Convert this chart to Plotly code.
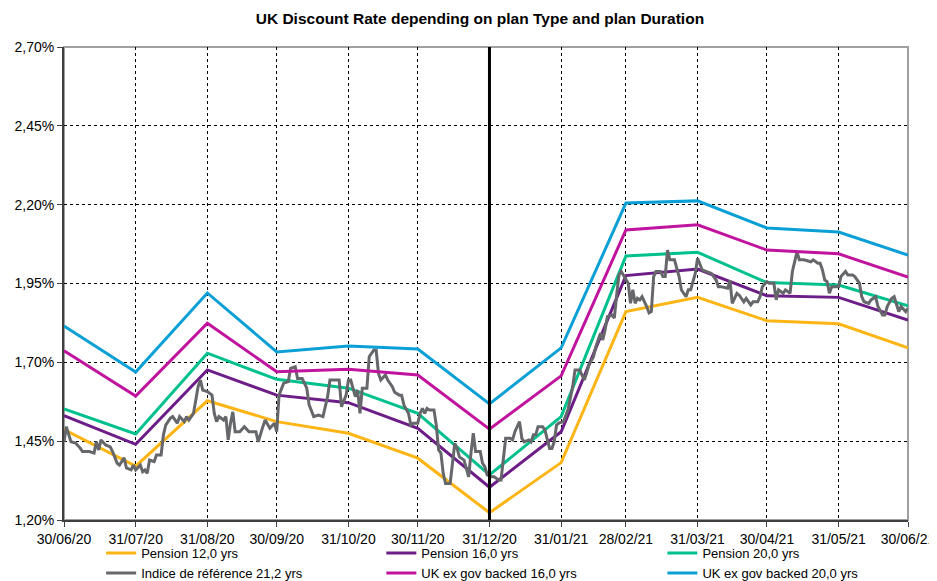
"""UK discount rate by plan type and duration."""

import pandas as pd
import plotly.graph_objects as go

# month-end knots for the curve series
month_ends = [
    "2020-06-30", "2020-07-31", "2020-08-31", "2020-09-30", "2020-10-31",
    "2020-11-30", "2020-12-31", "2021-01-31", "2021-02-28", "2021-03-31",
    "2021-04-30", "2021-05-31", "2021-06-30",
]
tick_labels = [
    "30/06/20", "31/07/20", "31/08/20", "30/09/20", "31/10/20", "30/11/20",
    "31/12/20", "31/01/21", "28/02/21", "31/03/21", "30/04/21", "31/05/21",
    "30/06/21",
]

pension_12 = [1.487, 1.371, 1.578, 1.512, 1.475, 1.396, 1.223, 1.382, 1.861, 1.906, 1.832, 1.822, 1.746]
pension_16 = [1.531, 1.440, 1.676, 1.596, 1.572, 1.491, 1.304, 1.480, 1.975, 1.996, 1.911, 1.906, 1.834]
pension_20 = [1.552, 1.473, 1.729, 1.646, 1.618, 1.538, 1.343, 1.528, 2.037, 2.049, 1.953, 1.945, 1.879]
ukgov_16 = [1.737, 1.593, 1.824, 1.670, 1.678, 1.660, 1.488, 1.657, 2.120, 2.136, 2.056, 2.044, 1.970]
ukgov_20 = [1.815, 1.669, 1.920, 1.733, 1.752, 1.742, 1.568, 1.746, 2.205, 2.212, 2.126, 2.113, 2.040]

# reference index, days after 30/06/20
ref_days = [
    0, 1, 3, 5, 7, 8, 11, 13, 14, 15, 16, 18, 20, 21, 23, 24, 26, 27, 29, 30,
    31, 33, 34, 35, 36, 37, 39, 40, 42, 43, 44, 46, 47, 49, 50, 52, 53, 54, 56, 57,
    58, 59, 60, 62, 64, 65, 66, 67, 69, 70, 71, 72, 73, 74, 76, 78, 80, 83, 84, 86,
    87, 89, 91, 92, 93, 95, 97, 98, 100, 101, 103, 105, 106, 108, 110, 112, 114, 115, 117, 119,
    120, 122, 123, 124, 126, 127, 128, 129, 131, 132, 134, 135, 136, 137, 139, 140, 142, 143, 145, 146,
    147, 149, 150, 151, 153, 154, 155, 156, 157, 158, 160, 161, 162, 163, 164, 165, 166, 167, 168, 169,
    170, 171, 173, 174, 175, 176, 177, 178, 179, 180, 181, 182, 183, 185, 186, 188, 189, 190, 191, 193,
    194, 195, 197, 198, 199, 201, 202, 203, 204, 205, 207, 208, 209, 210, 211, 212, 213, 214, 216, 217,
    218, 220, 221, 223, 225, 226, 227, 229, 230, 232, 233, 234, 235, 237, 238, 239, 240, 241, 242, 244,
    245, 246, 247, 248, 249, 250, 252, 253, 254, 255, 256, 258, 259, 260, 261, 262, 264, 266, 267, 269,
    270, 271, 273, 274, 276, 278, 280, 282, 283, 284, 287, 288, 289, 291, 292, 294, 295, 297, 298, 300,
    301, 302, 304, 305, 307, 308, 309, 311, 312, 314, 315, 317, 318, 320, 323, 324, 326, 327, 328, 329,
    330, 331, 332, 333, 335, 336, 338, 339, 341, 342, 344, 345, 346, 348, 349, 351, 352, 354, 355, 356,
    358, 359, 361, 362, 364, 365,
]
ref_values = [
    1.448, 1.496, 1.448, 1.444, 1.428, 1.417, 1.417, 1.412, 1.448, 1.422, 1.454, 1.438, 1.432, 1.417, 1.380, 1.374, 1.397, 1.365, 1.359, 1.374,
    1.359, 1.374, 1.353, 1.359, 1.348, 1.390, 1.385, 1.406, 1.406, 1.470, 1.501, 1.523, 1.528, 1.507, 1.528, 1.512, 1.528, 1.517, 1.538, 1.575,
    1.623, 1.644, 1.612, 1.607, 1.596, 1.538, 1.512, 1.528, 1.517, 1.528, 1.454, 1.507, 1.543, 1.480, 1.480, 1.496, 1.480, 1.480, 1.448, 1.496,
    1.517, 1.491, 1.507, 1.480, 1.596, 1.634, 1.639, 1.681, 1.686, 1.649, 1.649, 1.618, 1.565, 1.528, 1.533, 1.528, 1.591, 1.644, 1.644, 1.644,
    1.559, 1.596, 1.644, 1.644, 1.591, 1.612, 1.538, 1.618, 1.618, 1.718, 1.739, 1.739, 1.665, 1.644, 1.660, 1.644, 1.623, 1.605, 1.596, 1.596,
    1.565, 1.538, 1.501, 1.507, 1.507, 1.538, 1.554, 1.538, 1.554, 1.549, 1.549, 1.501, 1.422, 1.412, 1.348, 1.316, 1.316, 1.316, 1.380, 1.443,
    1.427, 1.400, 1.390, 1.359, 1.337, 1.412, 1.475, 1.417, 1.417, 1.417, 1.380, 1.369, 1.343, 1.337, 1.337, 1.327, 1.327, 1.390, 1.459, 1.459,
    1.454, 1.480, 1.512, 1.459, 1.448, 1.454, 1.448, 1.470, 1.470, 1.496, 1.496, 1.485, 1.459, 1.427, 1.427, 1.448, 1.501, 1.507, 1.512, 1.530,
    1.550, 1.623, 1.676, 1.676, 1.644, 1.665, 1.692, 1.718, 1.750, 1.792, 1.771, 1.803, 1.845, 1.850, 1.840, 1.914, 1.977, 1.988, 1.977, 1.951,
    1.887, 1.930, 1.887, 1.903, 1.898, 1.908, 1.877, 1.857, 1.861, 1.972, 1.988, 1.988, 1.972, 1.972, 2.056, 2.025, 2.025, 1.972, 1.930, 1.908,
    1.930, 1.930, 1.982, 2.030, 1.993, 1.988, 1.982, 1.961, 1.940, 1.940, 1.935, 1.960, 1.887, 1.919, 1.913, 1.892, 1.903, 1.882, 1.892, 1.892,
    1.908, 1.940, 1.956, 1.951, 1.951, 1.898, 1.930, 1.919, 1.930, 1.919, 1.988, 2.051, 2.025, 2.025, 2.019, 2.025, 2.014, 2.014, 1.993, 1.961,
    1.956, 1.919, 1.940, 1.940, 1.940, 1.972, 1.988, 1.977, 1.977, 1.972, 1.951, 1.908, 1.892, 1.887, 1.898, 1.908, 1.877, 1.850, 1.850, 1.877,
    1.903, 1.908, 1.861, 1.877, 1.861, 1.871,
]

y_ticks = [1.20, 1.45, 1.70, 1.95, 2.20, 2.45, 2.70]
y_labels = [f"{v:.2f}%".replace(".", ",") for v in y_ticks]

dates = pd.to_datetime(month_ends)
ref_dates = pd.Timestamp("2020-06-30") + pd.to_timedelta(ref_days, unit="D")

# (name, x, y, colour, legend column)
series = [
    ("Pension 12,0 yrs", dates, pension_12, "#FDB515", "legend"),
    ("Pension 16,0 yrs", dates, pension_16, "#6C1D87", "legend2"),
    ("Pension 20,0 yrs", dates, pension_20, "#00C08D", "legend3"),
    ("Indice de référence 21,2 yrs", ref_dates, ref_values, "#65676B", "legend"),
    ("UK ex gov backed 16,0 yrs", dates, ukgov_16, "#C0149E", "legend2"),
    ("UK ex gov backed 20,0 yrs", dates, ukgov_20, "#0AA0D6", "legend3"),
]

fig = go.Figure()
for name, x, y, colour, leg in series:
    fig.add_trace(go.Scatter(
        x=x, y=y, name=name, mode="lines", legend=leg,
        line=dict(color=colour, width=3),
    ))

fig.add_vline(x=pd.Timestamp("2020-12-31").timestamp() * 1000, line_color="black", line_width=3)

# frame: light top/right, dark left/bottom via axis lines
fig.add_shape(type="rect", xref="paper", yref="paper", x0=0, x1=1, y0=0, y1=1,
              line=dict(color="#A0A0A0", width=2), layer="below")

legend_style = dict(
    orientation="v", xanchor="left", yref="container", y=0.075, yanchor="top",
    tracegroupgap=0, font=dict(size=13), itemwidth=30, bgcolor="rgba(0,0,0,0)",
)

# the page body adds an 8px margin, so the figure is 8px smaller each way
fig.update_layout(
    width=929, height=573,
    margin=dict(l=56, r=29, t=39, b=61, autoexpand=False),
    paper_bgcolor="white", plot_bgcolor="white",
    font=dict(family="Liberation Sans, Arial, sans-serif", size=13, color="black"),
    title=dict(
        text="<b>UK Discount Rate depending on plan Type and plan Duration</b>",
        x=0.508, xanchor="center", y=0.982, yanchor="middle",
        font=dict(size=15.5),
    ),
    showlegend=True,
    legend=dict(x=0.044, **legend_style),
    legend2=dict(x=0.376, **legend_style),
    legend3=dict(x=0.709, **legend_style),
    xaxis=dict(
        type="date", range=["2020-06-30", "2021-06-30"],
        tickvals=dates, ticktext=tick_labels,
        showgrid=True, gridcolor="black", griddash="dot", gridwidth=1,
        showline=True, linecolor="#404040", linewidth=2,
        ticks="outside", ticklen=5, tickcolor="#404040",
        tickfont=dict(size=14),
        zeroline=False,
    ),
    yaxis=dict(
        range=[1.20, 2.70], tickvals=y_ticks, ticktext=y_labels,
        showgrid=True, gridcolor="black", griddash="dot", gridwidth=1,
        showline=True, linecolor="#404040", linewidth=2,
        ticks="outside", ticklen=5, tickcolor="#404040",
        tickfont=dict(size=14),
        zeroline=False,
    ),
)

fig.write_html("out.html")
